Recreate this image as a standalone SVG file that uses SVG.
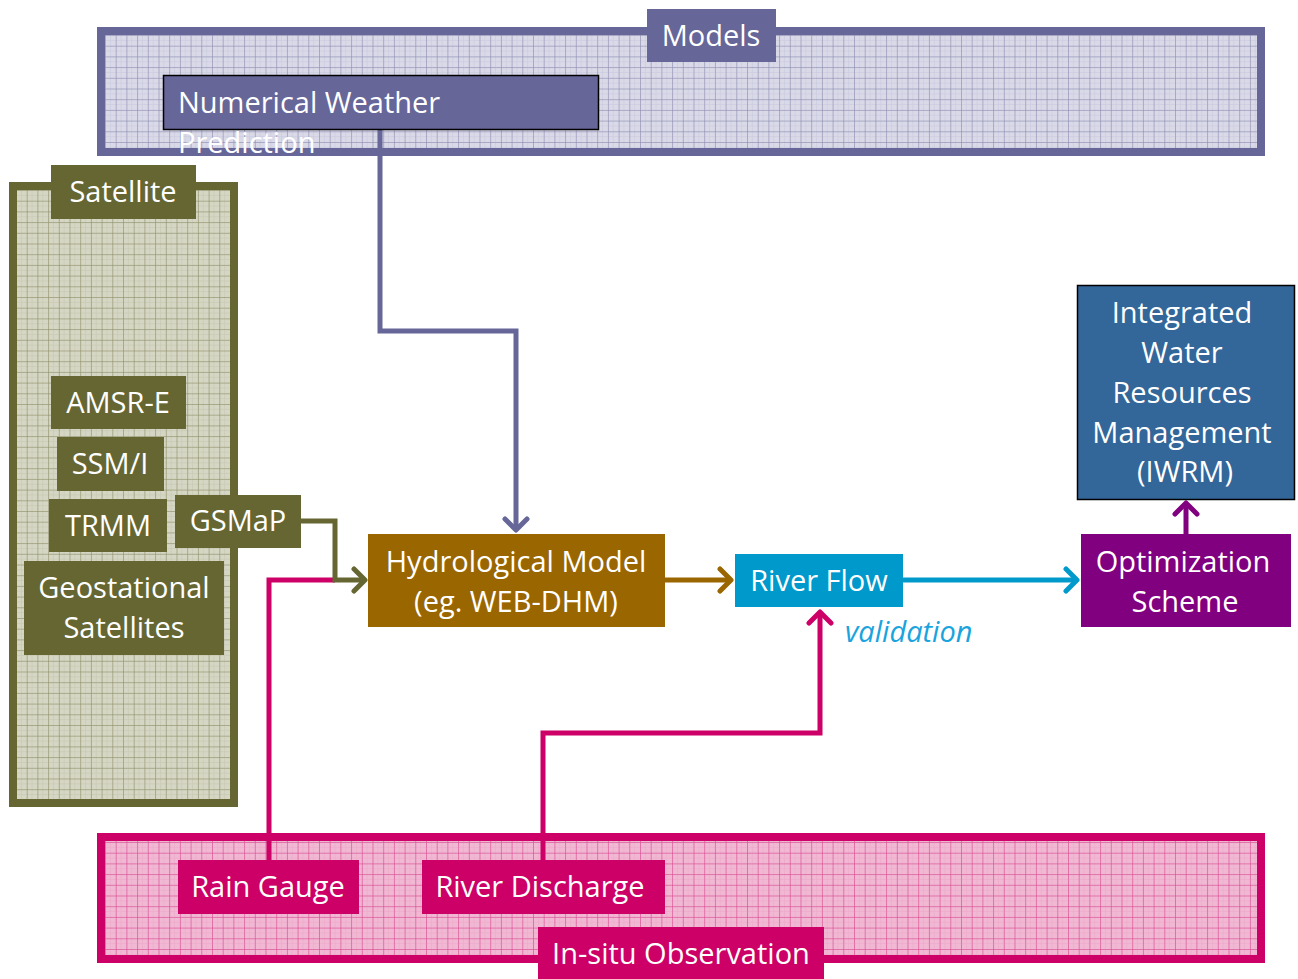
<svg xmlns="http://www.w3.org/2000/svg" width="1298" height="979" viewBox="0 0 1298 979">
<defs>
<pattern id="gridM" x="105" y="35" width="10.7" height="10.7" patternUnits="userSpaceOnUse">
<rect width="10.7" height="10.7" fill="#d9d9e8"/>
<path d="M0 5.35H10.7M5.35 0V10.7" stroke="#c8c8de" stroke-width="0.5" fill="none"/>
<path d="M0 0.4H10.7M0.4 0V10.7" stroke="#8d8db2" stroke-width="0.7" fill="none"/>
</pattern>
<pattern id="gridS" x="16" y="190" width="10.7" height="10.7" patternUnits="userSpaceOnUse">
<rect width="10.7" height="10.7" fill="#d5d6c3"/>
<path d="M0 5.35H10.7M5.35 0V10.7" stroke="#c6c7b1" stroke-width="0.5" fill="none"/>
<path d="M0 0.4H10.7M0.4 0V10.7" stroke="#8f906a" stroke-width="0.7" fill="none"/>
</pattern>
<pattern id="gridP" x="105" y="842" width="10.7" height="10.7" patternUnits="userSpaceOnUse">
<rect width="10.7" height="10.7" fill="#f1b8d4"/>
<path d="M0 5.35H10.7M5.35 0V10.7" stroke="#eba6c7" stroke-width="0.5" fill="none"/>
<path d="M0 0.4H10.7M0.4 0V10.7" stroke="#d84a90" stroke-width="0.7" fill="none"/>
</pattern>
<marker id="aPurple" viewBox="-14 -14 28 28" markerWidth="28" markerHeight="28" refX="0" refY="0" orient="auto" markerUnits="userSpaceOnUse"><path d="M-11,-11 L0,0 L-11,11" fill="none" stroke="#666699" stroke-width="5" stroke-linecap="round" stroke-linejoin="round"/></marker>
<marker id="aOlive" viewBox="-14 -14 28 28" markerWidth="28" markerHeight="28" refX="0" refY="0" orient="auto" markerUnits="userSpaceOnUse"><path d="M-11,-11 L0,0 L-11,11" fill="none" stroke="#666633" stroke-width="5" stroke-linecap="round" stroke-linejoin="round"/></marker>
<marker id="aBrown" viewBox="-14 -14 28 28" markerWidth="28" markerHeight="28" refX="0" refY="0" orient="auto" markerUnits="userSpaceOnUse"><path d="M-11,-11 L0,0 L-11,11" fill="none" stroke="#996600" stroke-width="5" stroke-linecap="round" stroke-linejoin="round"/></marker>
<marker id="aBlue" viewBox="-14 -14 28 28" markerWidth="28" markerHeight="28" refX="0" refY="0" orient="auto" markerUnits="userSpaceOnUse"><path d="M-11,-11 L0,0 L-11,11" fill="none" stroke="#0099cc" stroke-width="5" stroke-linecap="round" stroke-linejoin="round"/></marker>
<marker id="aViolet" viewBox="-14 -14 28 28" markerWidth="28" markerHeight="28" refX="0" refY="0" orient="auto" markerUnits="userSpaceOnUse"><path d="M-11,-11 L0,0 L-11,11" fill="none" stroke="#800080" stroke-width="5" stroke-linecap="round" stroke-linejoin="round"/></marker>
<marker id="aMag" viewBox="-14 -14 28 28" markerWidth="28" markerHeight="28" refX="0" refY="0" orient="auto" markerUnits="userSpaceOnUse"><path d="M-11,-11 L0,0 L-11,11" fill="none" stroke="#cc0066" stroke-width="5" stroke-linecap="round" stroke-linejoin="round"/></marker>
</defs>
<style>
text{font-family:"Open Sans","Noto Sans","Liberation Sans",sans-serif;font-size:29px;fill:#ffffff;text-anchor:middle}
.l{text-anchor:start}
.c{fill:none;stroke-width:5}
.val{fill:#1aa3dd;font-style:italic;text-anchor:start}
</style>
<rect width="1298" height="979" fill="#ffffff"/>

<g id="models-frame">
<rect x="101" y="31" width="1160" height="121" fill="url(#gridM)" stroke="#666699" stroke-width="8"/>
</g>
<g id="satellite-frame">
<rect x="13" y="186" width="221" height="617" fill="url(#gridS)" stroke="#666633" stroke-width="8"/>
</g>
<g id="insitu-frame">
<rect x="101" y="837" width="1160" height="122" fill="url(#gridP)" stroke="#cc0066" stroke-width="8"/>
</g>

<g id="connectors">
<path class="c" d="M380,129 V331 H516 V530" stroke="#666699" marker-end="url(#aPurple)"/>
<path class="c" d="M269,860 V580 H335" stroke="#cc0066"/>
<path class="c" d="M301,521 H335 V580 H365" stroke="#666633" marker-end="url(#aOlive)"/>
<path class="c" d="M665,580 H731" stroke="#996600" marker-end="url(#aBrown)"/>
<path class="c" d="M903,580 H1077" stroke="#0099cc" marker-end="url(#aBlue)"/>
<path class="c" d="M1186,534 V503" stroke="#800080" marker-end="url(#aViolet)"/>
<path class="c" d="M543,860 V733 H820 V612" stroke="#cc0066" marker-end="url(#aMag)"/>
</g>

<g id="models-label">
<rect x="647" y="9" width="129" height="53" fill="#666699"/>
<text x="711" y="46">Models</text>
</g>
<g id="nwp">
<rect x="163.5" y="75.5" width="435" height="54" fill="#666699" stroke="#000000" stroke-width="1.5"/>
<text class="l" x="178" y="113">Numerical Weather</text>
<text class="l" x="178" y="153">Prediction</text>
</g>

<g id="satellite-label">
<rect x="51" y="165" width="145" height="54" fill="#666633"/>
<text x="123" y="202">Satellite</text>
</g>
<g id="amsr-e">
<rect x="51" y="376" width="135" height="53" fill="#666633"/>
<text x="118" y="413">AMSR-E</text>
</g>
<g id="ssmi">
<rect x="57" y="437" width="107" height="54" fill="#666633"/>
<text x="110" y="474">SSM/I</text>
</g>
<g id="trmm">
<rect x="49" y="499" width="118" height="53" fill="#666633"/>
<text x="108" y="536">TRMM</text>
</g>
<g id="gsmap">
<rect x="175" y="495" width="126" height="53" fill="#666633"/>
<text x="238" y="531">GSMaP</text>
</g>
<g id="geostational">
<rect x="24" y="561" width="200" height="94" fill="#666633"/>
<text x="124" y="598">Geostational</text>
<text x="124" y="638">Satellites</text>
</g>

<g id="hydrological-model">
<rect x="368" y="534" width="297" height="93" fill="#996600"/>
<text x="516" y="572">Hydrological Model</text>
<text x="516" y="612">(eg. WEB-DHM)</text>
</g>
<g id="river-flow">
<rect x="735" y="554" width="168" height="53" fill="#0099cc"/>
<text x="819" y="591">River Flow</text>
</g>
<text class="val" x="845" y="642">validation</text>
<g id="optimization">
<rect x="1081" y="534" width="210" height="93" fill="#800080"/>
<text x="1183" y="572">Optimization</text>
<text x="1185" y="612">Scheme</text>
</g>
<g id="iwrm">
<rect x="1077.5" y="285.5" width="217" height="214" fill="#336699" stroke="#000000" stroke-width="1.5"/>
<text x="1182" y="323">Integrated</text>
<text x="1182" y="363">Water</text>
<text x="1182" y="403">Resources</text>
<text x="1182" y="443">Management</text>
<text x="1185" y="482">(IWRM)</text>
</g>

<g id="rain-gauge">
<rect x="178" y="860" width="181" height="54" fill="#cc0066"/>
<text x="268" y="897">Rain Gauge</text>
</g>
<g id="river-discharge">
<rect x="422" y="860" width="243" height="54" fill="#cc0066"/>
<text x="540" y="897">River Discharge</text>
</g>
<g id="insitu-label">
<rect x="538" y="927" width="286" height="52" fill="#cc0066"/>
<text x="681" y="964">In-situ Observation</text>
</g>
</svg>
